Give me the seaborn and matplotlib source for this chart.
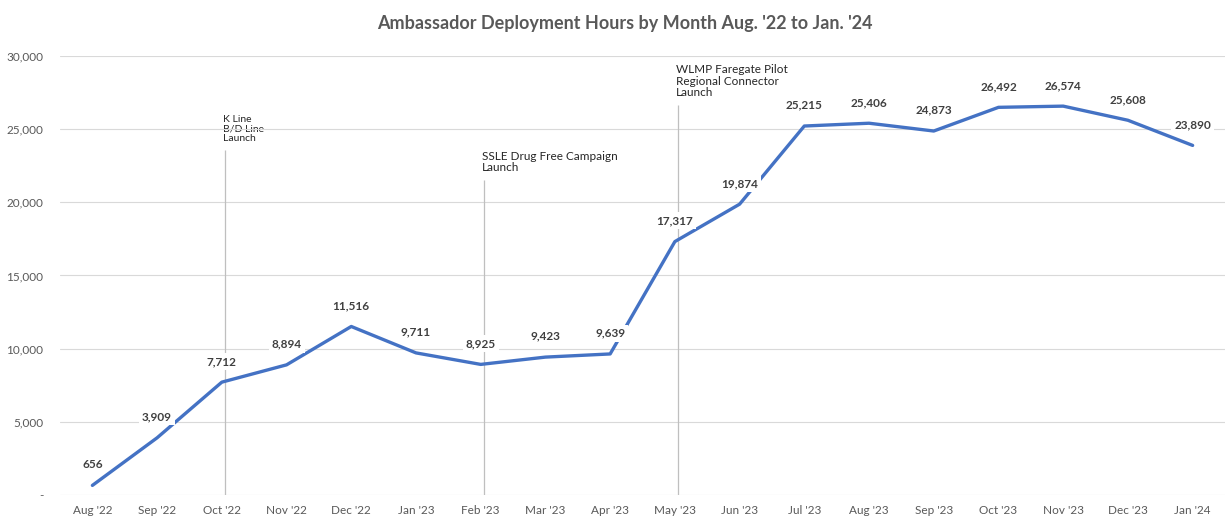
import matplotlib
matplotlib.use("Agg")
import matplotlib.pyplot as plt
import seaborn as sns
import numpy as np

months = ["Aug '22", "Sep '22", "Oct '22", "Nov '22", "Dec '22", "Jan '23",
          "Feb '23", "Mar '23", "Apr '23", "May '23", "Jun '23", "Jul '23",
          "Aug '23", "Sep '23", "Oct '23", "Nov '23", "Dec '23", "Jan '24"]
hours = [656, 3909, 7712, 8894, 11516, 9711, 8925, 9423, 9639, 17317,
         19874, 25215, 25406, 24873, 26492, 26574, 25608, 23890]

# milestone markers: month, top of marker line, label text, font size
event_months = ["Oct '22", "Feb '23", "May '23"]
event_tops = [23600, 21500, 26650]
event_labels = ["K Line\nB/D Line\nLaunch",
                "SSLE Drug Free Campaign\nLaunch",
                "WLMP Faregate Pilot\nRegional Connector\nLaunch"]
event_sizes = [7.5, 8.5, 8.5]

y_ticks = [0, 5000, 10000, 15000, 20000, 25000, 30000]

sns.set_theme(style="white")
plt.rcParams["font.family"] = ["Lato", "DejaVu Sans"]

fig = plt.figure(figsize=(12.25, 5.18), dpi=100)
ax = fig.add_axes([0.049, 0.0444, 0.951, 0.8475])

x = np.arange(len(months))
sns.lineplot(x=x, y=hours, ax=ax, color="#4472C4", linewidth=2.4, zorder=3)

ax.set_xlim(-0.5, len(months) - 0.5)
ax.set_ylim(0, 30000)
ax.set_yticks(y_ticks)
ax.set_yticklabels(["-" if v == 0 else f"{v:,}" for v in y_ticks],
                   color="#595959", fontsize=8.5)
ax.set_xticks(x)
ax.set_xticklabels(months, color="#595959", fontsize=8.5)
ax.tick_params(axis="both", length=0)
ax.tick_params(axis="y", pad=12)
ax.tick_params(axis="x", pad=7)

for v in y_ticks:
    ax.axhline(v, color="#D9D9D9", linewidth=0.8, zorder=1)
for s in ax.spines.values():
    s.set_visible(False)

# milestone lines and their captions
for m, top, lab, fs in zip(event_months, event_tops, event_labels, event_sizes):
    xi = months.index(m)
    ax.vlines(xi + 0.05, 0, top, color="#BFBFBF", linewidth=0.9, zorder=2)
    ax.annotate(lab, xy=(xi + 0.02, top), xytext=(0, 5), textcoords="offset points",
                ha="left", va="bottom", fontsize=fs, color="#262626",
                linespacing=1.05, zorder=0)

# value labels above each point
for xi, v in zip(x, hours):
    ax.annotate(f"{v:,}", xy=(xi, v), xytext=(0, 11), textcoords="offset points",
                ha="center", va="bottom", fontsize=8.5, fontweight="bold",
                color="#404040", zorder=4,
                bbox=dict(boxstyle="square,pad=0.25", fc="white", ec="none"))

fig.suptitle("Ambassador Deployment Hours by Month Aug. '22 to Jan. '24",
             x=0.51, y=0.972, va="top", fontsize=13, fontweight="bold",
             color="#595959")
ax.set_xlabel("")
ax.set_ylabel("")

fig.savefig("out.png", dpi=100)
